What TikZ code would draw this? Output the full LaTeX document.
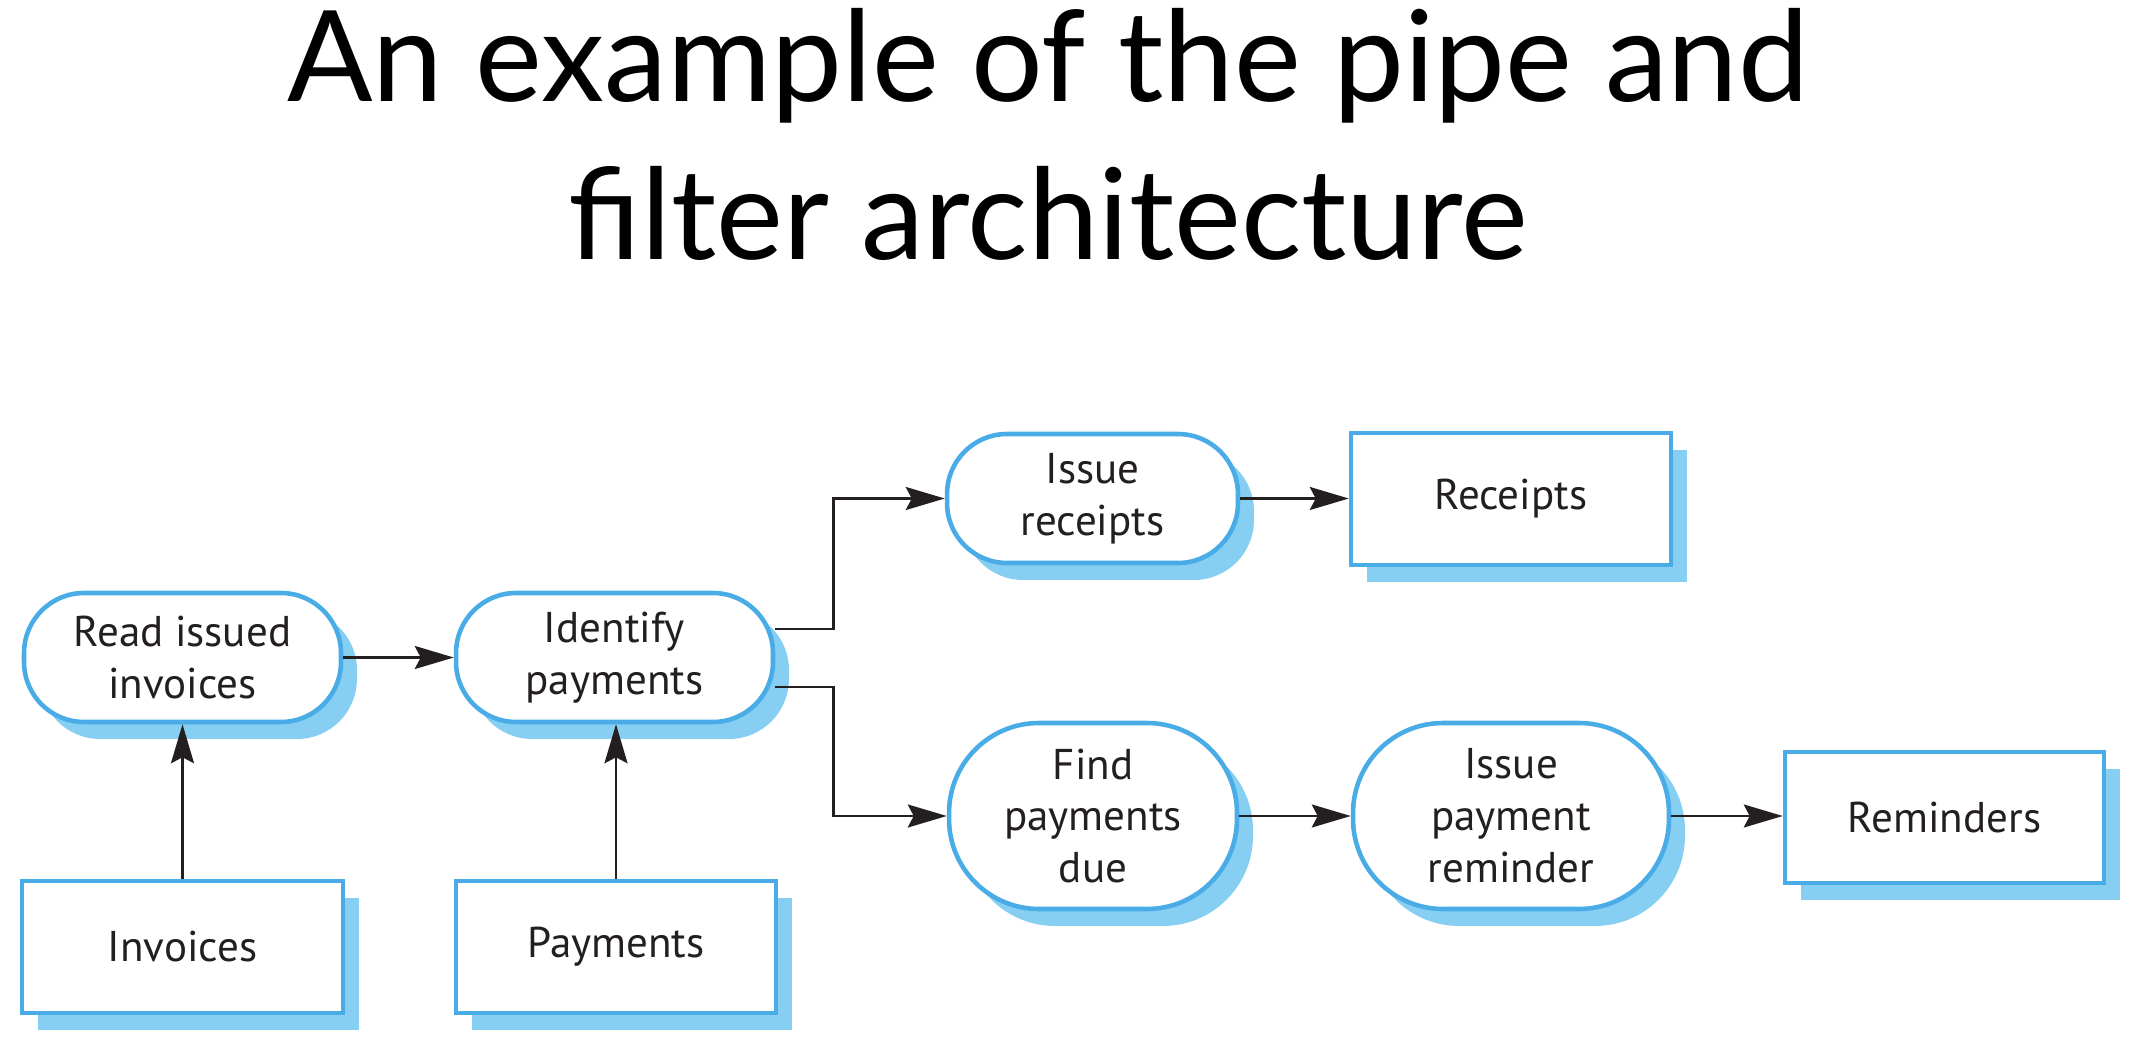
\documentclass[tikz,border=0pt]{standalone}
\usepackage{fontspec}
\setmainfont{PT Sans}
\newfontfamily\titlefont{Lato}
\usetikzlibrary{arrows.meta,shadows,calc}
\definecolor{boxblue}{HTML}{4AACE6}
\definecolor{shadowblue}{HTML}{86CEF2}
\definecolor{inktext}{HTML}{231F20}
\begin{document}
\begin{tikzpicture}[x=0.02cm,y=-0.02cm,
  base/.style={draw=boxblue, line width=2.6pt, fill=white, align=center, text=inktext,
    font=\fontsize{24.5}{29.5}\selectfont, inner sep=0pt,
    general shadow={fill=shadowblue, shadow xshift=0.32cm, shadow yshift=-0.34cm}},
  filt/.style={base, rounded corners=1.2cm},
  tallfilt/.style={base, rounded corners=1.8cm},
  store/.style={base},
  pipe/.style={line width=1.5pt, draw=inktext, -{Stealth[length=0.78cm,width=0.46cm,inset=0.12cm]}},
  titletext/.style={font=\titlefont\fontsize{72}{90}\selectfont, anchor=base, inner sep=0pt}]
\useasboundingbox (0,0) rectangle (2130,1060);
\node[titletext] (t1) at (1048,102) {An example of the pipe and};
\node[titletext] (t2) at (1048,260) {filter architecture};

\node[filt, minimum width=6.34cm, minimum height=2.58cm] (rii) at (182.5,657.5) {Read issued\\invoices};
\node[filt, minimum width=6.34cm, minimum height=2.58cm] (ip) at (614.5,657.5) {Identify\\payments};
\node[filt, minimum width=5.82cm, minimum height=2.58cm] (ir) at (1092.5,498.5) {Issue\\receipts};
\node[store, minimum width=6.4cm, minimum height=2.64cm] (rec) at (1511,499) {Receipts};
\node[tallfilt, minimum width=5.76cm, minimum height=3.72cm] (fpd) at (1093,816) {Find\\payments\\due};
\node[tallfilt, minimum width=6.32cm, minimum height=3.72cm] (ipr) at (1511,816) {Issue\\payment\\reminder};
\node[store, minimum width=6.38cm, minimum height=2.62cm] (rem) at (1944.5,817.5) {Reminders};
\node[store, minimum width=6.42cm, minimum height=2.64cm] (inv) at (182.5,947) {Invoices};
\node[store, minimum width=6.4cm, minimum height=2.64cm] (pay) at (616,947) {Payments};

\draw[pipe] (inv.north) -- (rii.south);
\draw[pipe] (pay.north) -- (pay.north |- ip.south);
\draw[pipe] (rii.east) -- (ip.west);
\draw[pipe] ([yshift=0.57cm]ip.east) -- ++(58,0) |- (ir.west);
\draw[pipe] ([yshift=-0.59cm]ip.east) -- ++(58,0) |- (fpd.west);
\draw[pipe] (ir.east) -- (ir.east -| rec.west);
\draw[pipe] (fpd.east) -- (ipr.west);
\draw[pipe] (ipr.east) -- (ipr.east -| rem.west);
\end{tikzpicture}
\end{document}
